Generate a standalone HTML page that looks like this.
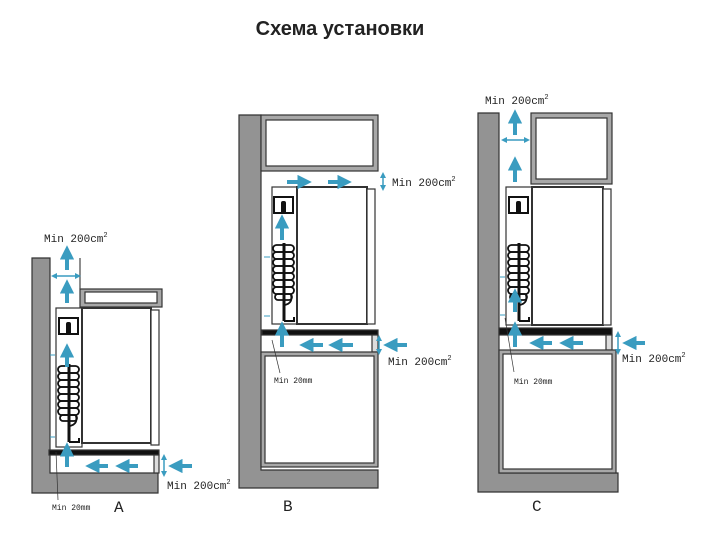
<!DOCTYPE html>
<html><head><meta charset="utf-8"><style>
html,body{margin:0;padding:0;background:#fff;}
svg{display:block;}
text{font-family:"Liberation Mono",monospace;fill:#222;}
</style></head><body>
<svg width="705" height="535" viewBox="0 0 705 535" xmlns="http://www.w3.org/2000/svg">
<defs>
<marker id="ah" markerWidth="3.6" markerHeight="3.6" refX="1.4" refY="1.8" orient="auto" markerUnits="strokeWidth">
<path d="M0,0 L3.6,1.8 L0,3.6 z" fill="#3a9cc0"/></marker>
<marker id="as" markerWidth="4" markerHeight="4" refX="2" refY="2" orient="auto" markerUnits="strokeWidth">
<path d="M0,0 L4,2 L0,4 z" fill="#3a9cc0"/></marker>
<marker id="asr" markerWidth="4" markerHeight="4" refX="2" refY="2" orient="auto-start-reverse" markerUnits="strokeWidth">
<path d="M0,0 L4,2 L0,4 z" fill="#3a9cc0"/></marker>
<g id="mech">
<rect x="2" y="10" width="19" height="16" fill="#fff" stroke="#111" stroke-width="2"/>
<rect x="9" y="14" width="5" height="13" rx="2" fill="#111"/>
<line x1="12" y1="56" x2="12" y2="134" stroke="#111" stroke-width="3"/>
<g fill="none" stroke="#111" stroke-width="1.8">
<rect x="1" y="58" width="21" height="7" rx="3.5"/><rect x="1" y="65" width="21" height="7" rx="3.5"/>
<rect x="1" y="72" width="21" height="7" rx="3.5"/><rect x="1" y="79" width="21" height="7" rx="3.5"/>
<rect x="1" y="86" width="21" height="7" rx="3.5"/><rect x="1" y="93" width="21" height="7" rx="3.5"/>
<rect x="1" y="100" width="21" height="7" rx="3.5"/><rect x="3" y="107" width="17" height="6" rx="3"/><path d="M19,108 Q21,116 13,118"/>
</g>
<path d="M12,134 L22,134 L22,130" fill="none" stroke="#111" stroke-width="2"/>
</g>
</defs>

<text x="340" y="35" text-anchor="middle" style="font-family:'Liberation Sans',sans-serif;font-weight:bold;font-size:20px">Схема установки</text>

<g stroke="#333" stroke-width="1.2">
<!-- A -->
<path d="M32,258 H50 V473 H158 V493 H32 Z" fill="#939393"/>
<rect x="80" y="289" width="82" height="18" fill="#a8a8a8"/>
<rect x="85" y="292" width="72" height="11" fill="#fff"/>
<rect x="56" y="308" width="26" height="139" fill="#fff"/>
<rect x="82" y="308" width="69" height="135" fill="#fff" stroke-width="2"/>
<rect x="151" y="310" width="8" height="135" fill="#fff"/>
<line x1="80" y1="258" x2="80" y2="289" stroke="#444"/>
<rect x="49" y="450" width="110" height="5" fill="#111"/>
<rect x="154" y="455" width="5" height="18" fill="#ddd"/>
<!-- B -->
<path d="M239,115 H261 V470 H378 V488 H239 Z" fill="#939393"/>
<rect x="261" y="115" width="117" height="56" fill="#a8a8a8"/>
<rect x="266" y="120" width="107" height="46" fill="#fff"/>
<rect x="272" y="187" width="25" height="137" fill="#fff"/>
<rect x="297" y="187" width="70" height="137" fill="#fff" stroke-width="2"/>
<rect x="367" y="189" width="8" height="135" fill="#fff"/>
<rect x="262" y="330" width="116" height="5" fill="#111"/>
<rect x="372" y="335" width="6" height="17" fill="#ddd"/>
<rect x="261" y="352" width="117" height="115" fill="#a8a8a8"/>
<rect x="265" y="356" width="109" height="107" fill="#fff"/>
<!-- C -->
<path d="M478,113 H499 V473 H618 V492 H478 Z" fill="#939393"/>
<rect x="531" y="113" width="81" height="71" fill="#a8a8a8"/>
<rect x="536" y="118" width="71" height="61" fill="#fff"/>
<rect x="506" y="187" width="26" height="138" fill="#fff"/>
<rect x="532" y="187" width="71" height="138" fill="#fff" stroke-width="2"/>
<rect x="603" y="189" width="8" height="136" fill="#fff"/>
<rect x="499" y="328" width="113" height="7" fill="#111"/>
<rect x="606" y="335" width="6" height="15" fill="#ddd"/>
<rect x="499" y="350" width="117" height="123" fill="#a8a8a8"/>
<rect x="503" y="354" width="109" height="115" fill="#fff"/>
</g>

<use href="#mech" x="57" y="308"/>
<use href="#mech" x="272" y="187"/>
<use href="#mech" x="507" y="187"/>

<g stroke="#3a9cc0" stroke-width="4" marker-end="url(#ah)" fill="none">
<line x1="67" y1="270" x2="67" y2="254"/>
<line x1="67" y1="303" x2="67" y2="288"/>
<line x1="67" y1="367" x2="67" y2="352"/>
<line x1="67" y1="467" x2="67" y2="451"/>
<line x1="108" y1="466" x2="94" y2="466"/>
<line x1="138" y1="466" x2="124" y2="466"/>
<line x1="192" y1="466" x2="177" y2="466"/>
<line x1="287" y1="182" x2="303" y2="182"/>
<line x1="328" y1="182" x2="343" y2="182"/>
<line x1="282" y1="240" x2="282" y2="223"/>
<line x1="282" y1="347" x2="282" y2="330"/>
<line x1="323" y1="345" x2="308" y2="345"/>
<line x1="353" y1="345" x2="337" y2="345"/>
<line x1="407" y1="345" x2="392" y2="345"/>
<line x1="515" y1="135" x2="515" y2="118"/>
<line x1="515" y1="182" x2="515" y2="165"/>
<line x1="515" y1="312" x2="515" y2="297"/>
<line x1="515" y1="347" x2="515" y2="330"/>
<line x1="552" y1="343" x2="538" y2="343"/>
<line x1="583" y1="343" x2="568" y2="343"/>
<line x1="645" y1="343" x2="631" y2="343"/>
</g>
<g stroke="#3a9cc0" stroke-width="1.5" marker-end="url(#as)" marker-start="url(#asr)">
<line x1="54" y1="276" x2="78" y2="276"/>
<line x1="164" y1="457" x2="164" y2="474"/>
<line x1="383" y1="175" x2="383" y2="188"/>
<line x1="379" y1="338" x2="379" y2="352"/>
<line x1="504" y1="140" x2="527" y2="140"/>
<line x1="618" y1="334" x2="618" y2="352"/>
</g>
<g stroke="#3a9cc0" stroke-width="1">
<line x1="50" y1="355" x2="55" y2="355"/><line x1="50" y1="437" x2="55" y2="437"/>
<line x1="264" y1="257" x2="270" y2="257"/><line x1="264" y1="316" x2="270" y2="316"/>
<line x1="500" y1="277" x2="505" y2="277"/><line x1="500" y1="315" x2="505" y2="315"/>
</g>
<g stroke="#333" stroke-width="0.7">
<line x1="56" y1="452" x2="58" y2="500"/>
<line x1="272" y1="340" x2="280" y2="373"/>
<line x1="505" y1="318" x2="514" y2="372"/>
</g>

<g font-size="11">
<text x="44" y="242">Min 200cm<tspan dy="-5" font-size="7">2</tspan></text>
<text x="167" y="489">Min 200cm<tspan dy="-5" font-size="7">2</tspan></text>
<text x="392" y="186">Min 200cm<tspan dy="-5" font-size="7">2</tspan></text>
<text x="388" y="365">Min 200cm<tspan dy="-5" font-size="7">2</tspan></text>
<text x="485" y="104">Min 200cm<tspan dy="-5" font-size="7">2</tspan></text>
<text x="622" y="362">Min 200cm<tspan dy="-5" font-size="7">2</tspan></text>
</g>
<g font-size="8">
<text x="52" y="510">Min 20mm</text>
<text x="274" y="383">Min 20mm</text>
<text x="514" y="384">Min 20mm</text>
</g>
<g style="font-family:'Liberation Sans',sans-serif" font-size="16">
<text x="114" y="512">A</text>
<text x="283" y="511">B</text>
<text x="532" y="511">C</text>
</g>
</svg>
</body></html>
